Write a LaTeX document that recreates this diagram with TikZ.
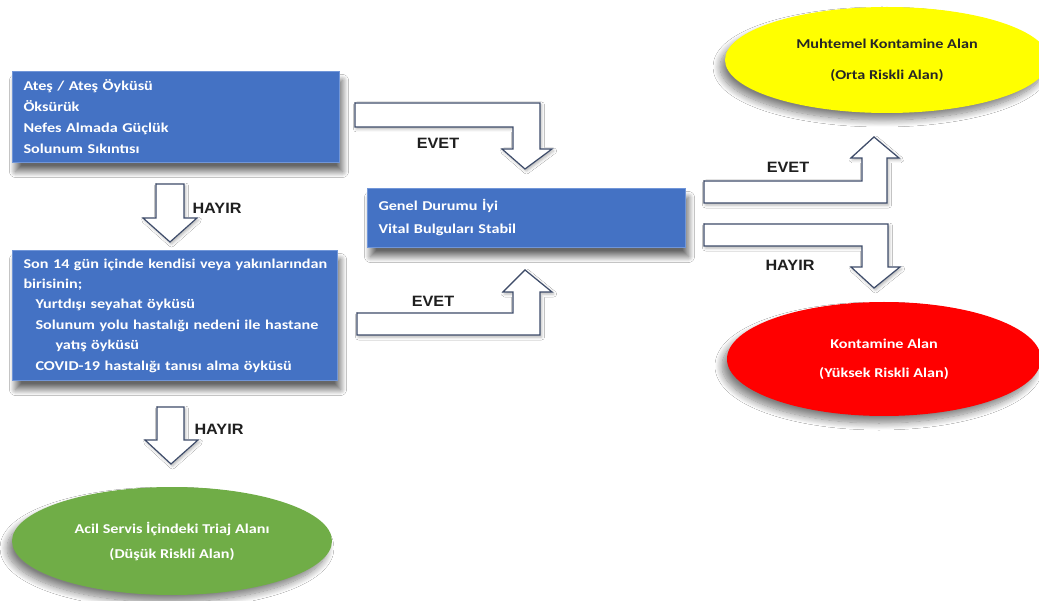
\documentclass[tikz,border=0pt]{standalone}
\usepackage{fontspec}
\setmainfont[FakeStretch=1.2]{Carlito}
\newfontfamily\lblfont[FakeStretch=1.08]{Liberation Sans}
\usetikzlibrary{shapes.geometric,shadows.blur}
\definecolor{boxblue}{HTML}{4472C4}
\definecolor{boxedge}{HTML}{7196D8}
\definecolor{arrowline}{HTML}{3E4C6A}
\definecolor{ygreen}{HTML}{70AD47}
\definecolor{yyellow}{HTML}{FFFF00}
\definecolor{rred}{HTML}{FF0000}
\tikzset{
  bluebox/.style={draw=boxedge, line width=1pt, fill=boxblue, text=white,
    align=left, anchor=north west, inner xsep=11pt, inner ysep=0pt,
    blur shadow={shadow xshift=3pt, shadow yshift=-9pt, shadow blur radius=6pt,
      shadow blur steps=12, shadow opacity=60}},
  oval/.style={ellipse, inner sep=0pt, align=center,
    font=\bfseries\fontsize{13.5}{17}\selectfont,
    blur shadow={shadow xshift=-5pt, shadow yshift=-7pt, shadow blur radius=7pt,
      shadow blur steps=12, shadow opacity=50}},
  blockarrow/.style={draw=arrowline, line width=1.2pt, fill=white, line join=miter,
    blur shadow={shadow xshift=1.5pt, shadow yshift=-2pt, shadow blur radius=3pt,
      shadow opacity=30}},
  lbl/.style={font=\lblfont\bfseries\fontsize{15}{18}\selectfont, text=black!88, inner sep=0pt}
}
\begin{document}
\begin{tikzpicture}[x=1pt,y=-1pt]
\useasboundingbox (0,0) rectangle (1039,601);
\fill[white] (0,0) rectangle (1039,601);

% ellipses
\node[oval, fill=yyellow, text=black!85, minimum width=324pt, minimum height=106pt] (orta) at (887,60)
  {Muhtemel Kontamine Alan\\[14pt](Orta Riskli Alan)};
\node[oval, fill=rred, text=white, minimum width=314pt, minimum height=114pt] (yuksek) at (884,359)
  {Kontamine Alan\\[12pt](Yüksek Riskli Alan)};
\node[oval, fill=ygreen, text=white, minimum width=320pt, minimum height=108pt] (dusuk) at (172,541)
  {Acil Servis İçindeki Triaj Alanı\\[8pt](Düşük Riskli Alan)};

% blue boxes
\node[bluebox, text width=305pt, minimum height=91pt,
  font=\bfseries\fontsize{13.5}{21}\selectfont] (semptom) at (12,71)
  {Ateş / Ateş Öyküsü\\Öksürük\\Nefes Almada Güçlük\\Solunum Sıkıntısı};
\node[bluebox, text width=303pt, minimum height=130pt,
  font=\bfseries\fontsize{13.5}{20.4}\selectfont] (temas) at (12,250)
  {\mbox{Son 14 gün içinde kendisi veya yakınlarından}\\
   \mbox{birisinin;}\\
   \mbox{\hspace*{12pt}Yurtdışı seyahat öyküsü}\\
   \mbox{\hspace*{12pt}Solunum yolu hastalığı nedeni ile hastane}\\
   \mbox{\hspace*{32pt}yatış öyküsü}\\
   \mbox{\hspace*{12pt}COVID-19 hastalığı tanısı alma öyküsü}};
\node[bluebox, text width=296pt, minimum height=59pt,
  font=\bfseries\fontsize{13.5}{23}\selectfont] (genel) at (367,188)
  {Genel Durumu İyi\\Vital Bulguları Stabil};

% block arrows
\draw[blockarrow] (355,103) -- (540,103) -- (540,149) -- (552,149) -- (525,169)
  -- (502,149) -- (513,149) -- (513,127) -- (355,127) -- cycle;
\draw[blockarrow] (357,335) -- (540,335) -- (540,292) -- (552,292) -- (525,270)
  -- (503,292) -- (513,292) -- (513,313) -- (357,313) -- cycle;
\draw[blockarrow] (704,203) -- (887,203) -- (887,158) -- (899,158) -- (874,137)
  -- (851,158) -- (862,158) -- (862,181) -- (704,181) -- cycle;
\draw[blockarrow] (704,224) -- (888,224) -- (888,267) -- (900,267) -- (874,288)
  -- (851,267) -- (862,267) -- (862,246) -- (704,246) -- cycle;
\draw[blockarrow] (156,184) -- (184,184) -- (184,218) -- (197,218) -- (170,242)
  -- (143,218) -- (156,218) -- cycle;
\draw[blockarrow] (157,407) -- (184,407) -- (184,440) -- (198,440) -- (171,464)
  -- (145,440) -- (157,440) -- cycle;

% labels
\node[lbl] (evet1) at (438,143) {EVET};
\node[lbl] (evet2) at (433,301) {EVET};
\node[lbl] (evet3) at (788,167) {EVET};
\node[lbl] (hayir3) at (790,265) {HAYIR};
\node[lbl] (hayir1) at (217,208) {HAYIR};
\node[lbl] (hayir2) at (219,429) {HAYIR};
\end{tikzpicture}
\end{document}
